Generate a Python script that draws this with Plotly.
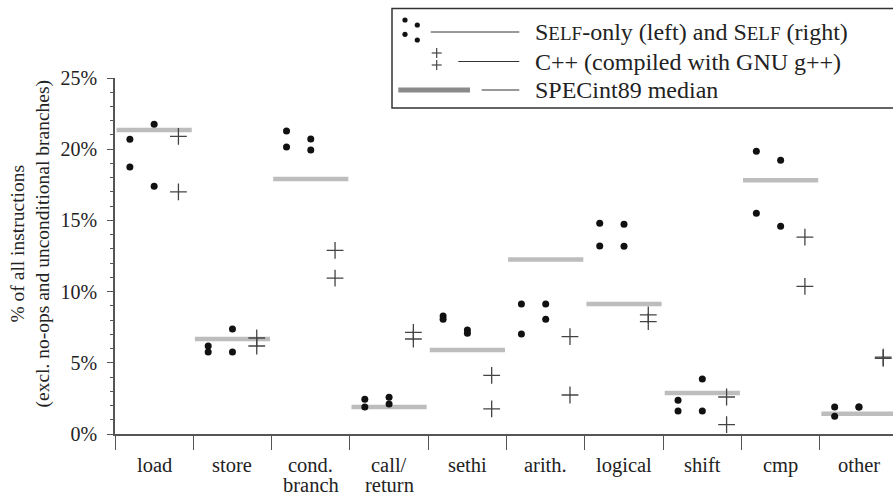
import plotly.graph_objects as go

# Instruction categories (x axis)
categories = ["load", "store", "cond.<br>branch", "call/<br>return", "sethi",
              "arith.", "logical", "shift", "cmp", "other"]

# Two benchmark groups per category, values in % of all instructions
self_only_a = [20.7, 6.18, 21.28, 2.44, 8.28, 9.13, 14.8, 2.37, 19.85, 1.90]
self_only_b = [18.75, 5.76, 20.15, 1.90, 8.05, 7.02, 13.2, 1.62, 15.5, 1.24]
self_a = [21.75, 7.37, 20.72, 2.58, 7.30, 9.13, 14.73, 3.86, 19.22, 1.90]
self_b = [17.4, 5.76, 19.94, 2.11, 7.08, 8.05, 13.18, 1.62, 14.59, 1.90]
cpp_a = [20.9, 6.74, 12.9, 7.14, 4.12, 6.84, 8.36, 2.60, 13.83, 5.40]
cpp_b = [17.0, 6.18, 10.95, 6.67, 1.76, 2.74, 7.89, 0.66, 10.37, 5.32]
specint_median = [21.35, 6.67, 17.9, 1.90, 5.9, 12.25, 9.13, 2.88, 17.82, 1.43]

y_ticks = [0, 5, 10, 15, 20, 25]

W, H = 893, 495
FONT = "Liberation Serif, Times New Roman, serif"
INK = "#222222"


def px(x):
    return x / W


def py(y):
    return 1 - y / H


n = len(categories)
idx = list(range(n))
LEFT, MID, RIGHT = -0.31, 0.0, 0.31

fig = go.Figure()

# SPECint89 median: a short horizontal bar across each category
mx, my = [], []
for i, m in zip(idx, specint_median):
    mx += [i - 0.48, i + 0.48, None]
    my += [m, m, None]
fig.add_trace(go.Scatter(x=mx, y=my, mode="lines",
                         line=dict(color="#bdbdbd", width=4.5),
                         hoverinfo="skip", showlegend=False))

dot = dict(color="#111111", size=7)
for vals, off in [(self_only_a, LEFT), (self_only_b, LEFT),
                  (self_a, MID), (self_b, MID)]:
    fig.add_trace(go.Scatter(x=[i + off for i in idx], y=vals, mode="markers",
                             marker=dot, showlegend=False, cliponaxis=False))

plus = dict(symbol="cross-thin", size=12, line=dict(color="#444444", width=1.3),
            color="#444444")
for vals in (cpp_a, cpp_b):
    fig.add_trace(go.Scatter(x=[i + RIGHT for i in idx], y=vals, mode="markers",
                             marker=plus, showlegend=False, cliponaxis=False))

shapes = []
annotations = []

# category labels under the axis (tight line spacing for two-line names)
for i, c in zip(idx, categories):
    for k, line in enumerate(c.split("<br>")):
        annotations.append(dict(x=i, y=py(465 + 20 * k), xref="x", yref="paper",
                                text=line, showarrow=False, xanchor="center",
                                yanchor="middle",
                                font=dict(family=FONT, size=20.5, color=INK)))

# y axis title
annotations.append(dict(
    x=px(29.5), y=py(244), xref="paper", yref="paper", textangle=-90,
    text="% of all instructions<br>(excl. no-ops and unconditional branches)",
    showarrow=False, xanchor="center", yanchor="middle", align="center",
    font=dict(family=FONT, size=19.5, color=INK)))

# key box
shapes.append(dict(type="rect", xref="paper", yref="paper",
                   x0=px(392), x1=px(905), y0=py(8.5), y1=py(108),
                   line=dict(color="#333333", width=1.5), fillcolor="white",
                   layer="above"))

# key row 1: pattern of dots
for (cx, cy) in [(405, 20), (417.3, 25), (405, 34.3), (417.3, 40)]:
    r = 2.6
    shapes.append(dict(type="circle", xref="paper", yref="paper",
                       x0=px(cx - r), x1=px(cx + r), y0=py(cy - r), y1=py(cy + r),
                       fillcolor="#111111", line=dict(width=0), layer="above"))
# key row 2: two plus signs
for (cx, cy) in [(436.7, 53), (436.7, 65)]:
    shapes.append(dict(type="line", xref="paper", yref="paper",
                       x0=px(cx - 5), x1=px(cx + 5), y0=py(cy), y1=py(cy),
                       line=dict(color="#444444", width=1.2), layer="above"))
    shapes.append(dict(type="line", xref="paper", yref="paper",
                       x0=px(cx), x1=px(cx), y0=py(cy - 5), y1=py(cy + 5),
                       line=dict(color="#444444", width=1.2), layer="above"))
# key row 3: thick grey swatch
shapes.append(dict(type="line", xref="paper", yref="paper",
                   x0=px(398.3), x1=px(470), y0=py(90), y1=py(90),
                   line=dict(color="#8a8a8a", width=5), layer="above"))
# connector lines
for (x0, yy) in [(430.7, 32), (458.3, 61.5), (481.7, 90)]:
    shapes.append(dict(type="line", xref="paper", yref="paper",
                       x0=px(x0), x1=px(519.3), y0=py(yy), y1=py(yy),
                       line=dict(color="#333333", width=1), layer="above"))

sc = "<span style='font-size:19px'>ELF</span>"
key_texts = [f"S{sc}-only (left) and S{sc} (right)",
             "C++ (compiled with GNU g++)",
             "SPECint89 median"]
for t, yy in zip(key_texts, [32, 61.5, 90]):
    annotations.append(dict(x=px(533), y=py(yy), xref="paper", yref="paper",
                            text=t, showarrow=False, xanchor="left",
                            yanchor="middle",
                            font=dict(family=FONT, size=24, color=INK)))

fig.update_layout(
    template="none",
    width=W, height=H,
    margin=dict(l=0, r=0, t=0, b=0, pad=0),
    paper_bgcolor="white", plot_bgcolor="white",
    showlegend=False,
    shapes=shapes, annotations=annotations,
    xaxis=dict(domain=[px(115), 1.0], range=[-0.5, 9.435], automargin=False,
               tickvals=[i - 0.5 for i in range(n + 1)], ticktext=[""] * (n + 1),
               ticks="outside", ticklen=14, tickwidth=1.2, tickcolor="#555555",
               showline=True, linecolor="#555555", linewidth=1.5,
               showgrid=False, zeroline=False, fixedrange=True),
    yaxis=dict(domain=[py(434), py(78)], range=[0, 25], automargin=False,
               tickvals=y_ticks, ticktext=[f"{v}%" for v in y_ticks],
               ticks="outside", ticklen=6, tickwidth=1.2, tickcolor="#555555",
               minor=dict(dtick=1, ticks="outside", ticklen=3, tickwidth=1,
                          tickcolor="#555555", showgrid=False),
               ticklabelstandoff=6,
               showline=True, linecolor="#555555", linewidth=1.5,
               showgrid=False, zeroline=False,
               tickfont=dict(family=FONT, size=20, color=INK)),
)

fig.write_html("out.html")
